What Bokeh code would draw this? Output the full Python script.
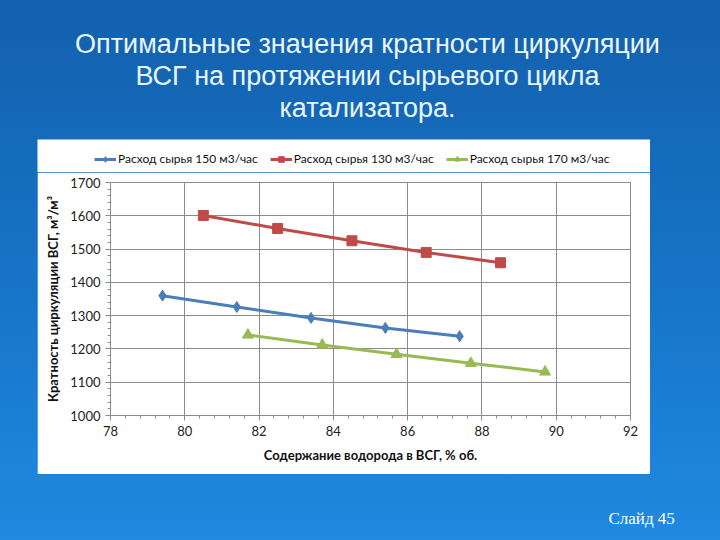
from bokeh.plotting import figure
from bokeh.models import Range1d, Legend, LegendItem, Spacer
from bokeh.layouts import column, row
from bokeh.core.properties import value
from bokeh.embed import file_html
from bokeh.resources import INLINE

# ---- data ----
x_150 = [79.4, 81.4, 83.4, 85.4, 87.4]
y_150 = [1360, 1326, 1293, 1263, 1238]
x_130 = [80.5, 82.5, 84.5, 86.5, 88.5]
y_130 = [1601, 1562, 1525, 1490, 1459]
x_170 = [81.7, 83.7, 85.7, 87.7, 89.7]
y_170 = [1242, 1212, 1184, 1157, 1131]
labels = ["Расход сырья 150 м3/час", "Расход сырья 130 м3/час", "Расход сырья 170 м3/час"]
title_lines = ["Оптимальные значения кратности циркуляции",
               "ВСГ на протяжении сырьевого цикла",
               "катализатора."]
x_title = "Содержание водорода в ВСГ, % об."
y_title = "Кратность циркуляции ВСГ, м³/м³"
slide_label = "Слайд 45"
y_min, y_max = 1000, 1700
x_min, x_max = 78, 92

FONT = "Lato"
colors = ["#4A7EBB", "#BE4B48", "#98B954"]
series = [(x_150, y_150, "diamond", 11), (x_130, y_130, "square", 10), (x_170, y_170, "triangle", 11)]


def no_align(f):
    if "frame_align" in f.properties():
        f.frame_align = False
    return f


def text_panel(w, h):
    f = figure(width=w, height=h, output_backend="svg", toolbar_location=None,
               x_range=Range1d(0, w), y_range=Range1d(h, 0),
               x_axis_type=None, y_axis_type=None, min_border=0,
               background_fill_alpha=0, border_fill_alpha=0, outline_line_color=None)
    return no_align(f)


# ---- title panel ----
top = text_panel(720, 139)
top.text(x=[367, 367, 367], y=[43, 75, 107], text=title_lines,
         text_align="center", text_baseline="alphabetic", text_color="#eaf6ff",
         text_font=value("Liberation Sans"), text_font_size="27px")

# ---- legend strip (same series, drawn out of view; only the legend shows) ----
lf = figure(width=613, height=33, output_backend="svg", toolbar_location=None,
            x_range=Range1d(0, 1), y_range=Range1d(0, 1),
            x_axis_type=None, y_axis_type=None, min_border=0,
            background_fill_color="white", border_fill_color="white",
            outline_line_color=None)
no_align(lf)
items = []
for (xs, ys, mk, sz), c, lab in zip(series, colors, labels):
    l = lf.line(xs, ys, line_width=3, color=c)
    s = lf.scatter(xs, ys, marker=mk, size=sz - 2, color=c)
    items.append(LegendItem(label=lab, renderers=[l, s]))
legend = Legend(items=items, orientation="horizontal", location=(57, 6),
                label_text_font=FONT, label_text_font_size="12px",
                label_text_color="#111111", border_line_color=None,
                background_fill_alpha=0, glyph_width=22, glyph_height=14,
                spacing=12, padding=0, margin=0, label_standoff=2)
lf.add_layout(legend, "center")

# ---- chart ----
p = figure(width=613, height=302, output_backend="svg", toolbar_location=None,
           x_range=Range1d(x_min, x_max), y_range=Range1d(y_min, y_max),
           min_border_left=73, min_border_right=20, min_border_top=10,
           min_border_bottom=59, background_fill_color="white",
           border_fill_color="white", outline_line_color="#8c8c8c")
no_align(p)

p.xaxis.ticker.desired_num_ticks = 8
p.xaxis.ticker.num_minor_ticks = 5
p.yaxis.ticker.desired_num_ticks = 8
p.yaxis.ticker.num_minor_ticks = 5
for ax in (p.xaxis[0], p.yaxis[0]):
    ax.axis_line_color = "#8c8c8c"
    ax.major_tick_line_color = "#8c8c8c"
    ax.minor_tick_line_color = "#8c8c8c"
    ax.major_tick_in = 0
    ax.major_tick_out = 5
    ax.minor_tick_in = 0
    ax.minor_tick_out = 3
    ax.major_label_text_font = FONT
    ax.major_label_text_font_size = "13px"
    ax.major_label_text_color = "#222222"
    ax.axis_label_text_font = FONT
    ax.axis_label_text_font_size = "13px"
    ax.axis_label_text_font_style = "bold"
    ax.axis_label_text_color = "#111111"
p.xaxis.axis_label = x_title
p.yaxis.axis_label = y_title
p.xaxis.axis_label_standoff = 8
p.yaxis.axis_label_standoff = 6
p.xgrid.grid_line_color = "#8c8c8c"
p.ygrid.grid_line_color = "#8c8c8c"

for (xs, ys, mk, sz), c in zip(series, colors):
    p.line(xs, ys, line_width=3, color=c)
    p.scatter(xs, ys, marker=mk, size=sz, color=c)

legend_row = row(Spacer(width=37, height=33), lf, Spacer(width=70, height=33))
chart_row = row(Spacer(width=37, height=302), p, Spacer(width=70, height=302))

# ---- bottom panel ----
bottom = text_panel(720, 66)
bottom.text(x=[608], y=[44], text=[slide_label], text_align="left",
            text_baseline="middle", text_color="white",
            text_font=value("Liberation Serif"), text_font_size="17px")

layout = column(top, legend_row, chart_row, bottom,
                styles={"background": "linear-gradient(to bottom, #1360ad 0%, #1775c8 55%, #1f8ae0 100%)"})

open("out.html", "w").write(file_html(layout, INLINE))
